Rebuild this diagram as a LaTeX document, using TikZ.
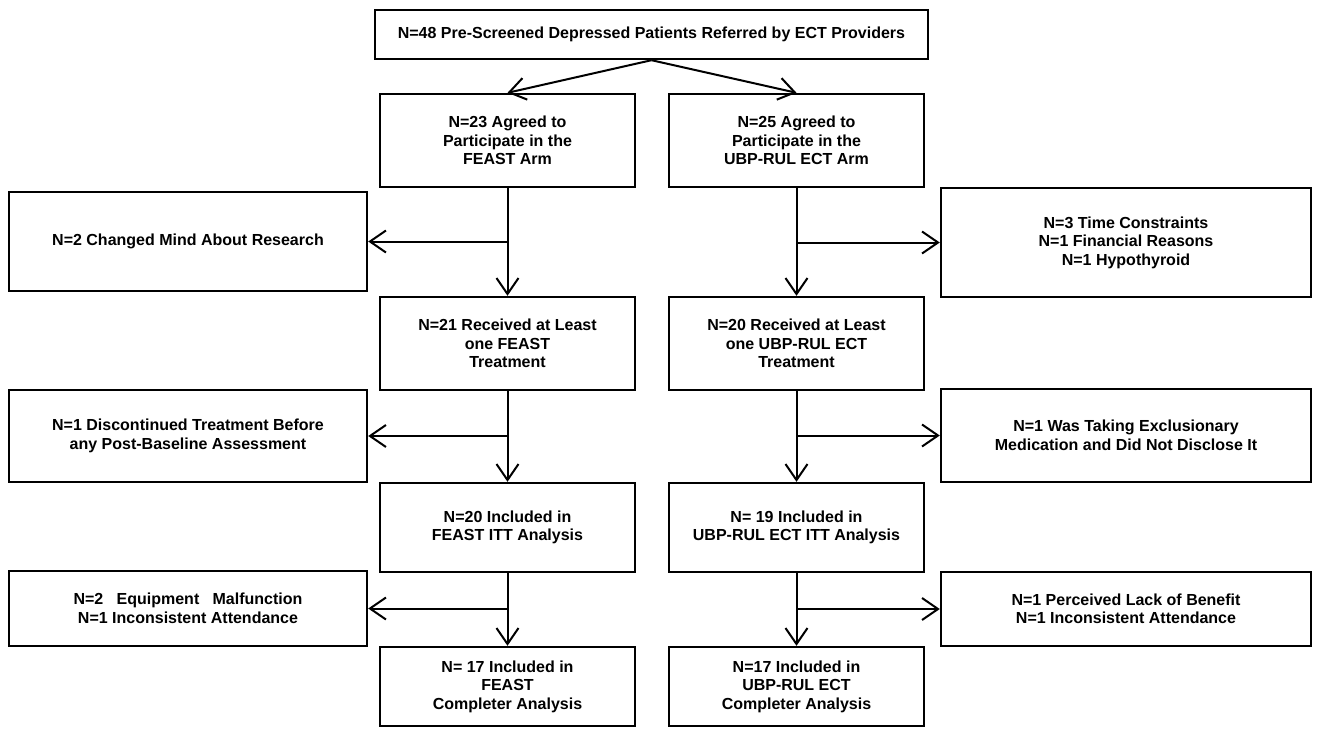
\documentclass[tikz,border=0pt]{standalone}
\usepackage{fontspec}
\newfontfamily\boxfont{Liberation Sans}
\usetikzlibrary{arrows.meta}
\tikzset{
  box/.style={draw=black, line width=2.4pt, fill=white, align=center, inner sep=2pt,
    font=\boxfont\bfseries\fontsize{16}{18.5}\selectfont},
  arr/.style={line width=2pt, -{Straight Barb[length=16pt,width=22pt,line width=2pt]}},
}
\begin{document}
\begin{tikzpicture}[x={(1pt,0)}, y={(0,-1pt)}]
\useasboundingbox (0,0) rectangle (1318,729);
% top
\node[box, minimum width=553pt, minimum height=49pt] (top) at (651.5,34.5)
  {N=48 Pre-Screened Depressed Patients Referred by ECT Providers};
% FEAST column
\node[box, minimum width=255pt, minimum height=93pt] (f1) at (507.5,140.5)
  {N=23 Agreed to\\Participate in the\\FEAST Arm};
\node[box, minimum width=255pt, minimum height=93pt] (f2) at (507.5,343.5)
  {N=21 Received at Least\\one FEAST\\Treatment};
\node[box, minimum width=255pt, minimum height=89pt] (f3) at (507.5,527.5)
  {N=20 Included in\\FEAST ITT Analysis};
\node[box, minimum width=255pt, minimum height=79pt] (f4) at (507.5,686.5)
  {N= 17 Included in\\FEAST\\Completer Analysis};
% UBP column
\node[box, minimum width=255pt, minimum height=93pt] (u1) at (796.5,140.5)
  {N=25 Agreed to\\Participate in the\\UBP-RUL ECT Arm};
\node[box, minimum width=255pt, minimum height=93pt] (u2) at (796.5,343.5)
  {N=20 Received at Least\\one UBP-RUL ECT\\Treatment};
\node[box, minimum width=255pt, minimum height=89pt] (u3) at (796.5,527.5)
  {N= 19 Included in\\UBP-RUL ECT ITT Analysis};
\node[box, minimum width=255pt, minimum height=79pt] (u4) at (796.5,686.5)
  {N=17 Included in\\UBP-RUL ECT\\Completer Analysis};
% left side boxes
\node[box, minimum width=358pt, minimum height=99pt] (l1) at (188,241.5)
  {N=2 Changed Mind About Research};
\node[box, minimum width=358pt, minimum height=92pt] (l2) at (188,436)
  {N=1 Discontinued Treatment Before\\any Post-Baseline Assessment};
\node[box, minimum width=358pt, minimum height=75pt] (l3) at (188,608.5)
  {N=2\ \ \ Equipment\ \ \ Malfunction\\N=1 Inconsistent Attendance};
% right side boxes
\node[box, minimum width=370pt, minimum height=109pt] (r1) at (1126,242.5)
  {N=3 Time Constraints\\N=1 Financial Reasons\\N=1 Hypothyroid};
\node[box, minimum width=370pt, minimum height=93pt] (r2) at (1126,435.5)
  {N=1 Was Taking Exclusionary\\Medication and Did Not Disclose It};
\node[box, minimum width=370pt, minimum height=74pt] (r3) at (1126,609)
  {N=1 Perceived Lack of Benefit\\N=1 Inconsistent Attendance};
% connectors
\draw[arr] (top.south) -- (f1.north);
\draw[arr] (top.south) -- (u1.north);
\draw[arr] (f1.south) -- (f2.north);
\draw[arr] (f2.south) -- (f3.north);
\draw[arr] (f3.south) -- (f4.north);
\draw[arr] (u1.south) -- (u2.north);
\draw[arr] (u2.south) -- (u3.north);
\draw[arr] (u3.south) -- (u4.north);
\draw[arr] (f1.south |- l1.east) -- (l1.east);
\draw[arr] (f2.south |- l2.east) -- (l2.east);
\draw[arr] (f3.south |- l3.east) -- (l3.east);
\draw[arr] (u1.south |- r1.west) -- (r1.west);
\draw[arr] (u2.south |- r2.west) -- (r2.west);
\draw[arr] (u3.south |- r3.west) -- (r3.west);
\end{tikzpicture}
\end{document}
